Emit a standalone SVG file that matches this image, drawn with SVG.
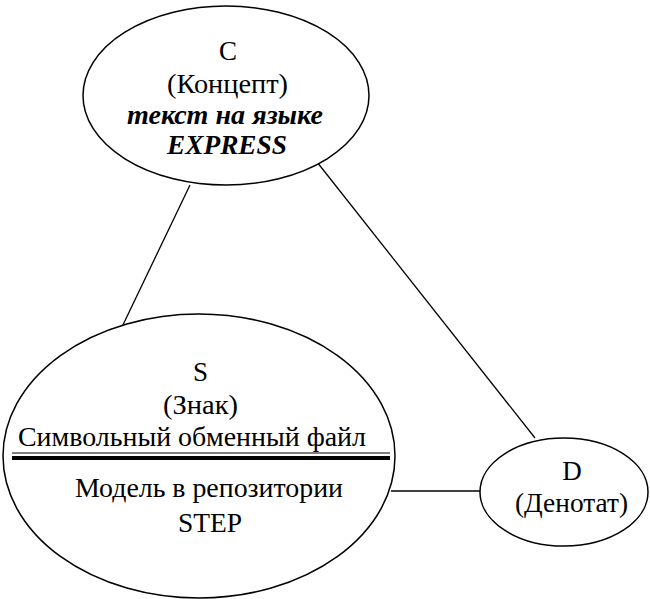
<svg xmlns="http://www.w3.org/2000/svg" width="650" height="599" viewBox="0 0 650 599">
<style>
.n{fill:#fff;stroke:#000;stroke-width:1.5}
.t{font-family:"Liberation Serif","Times New Roman",serif;font-size:27px;fill:#000;text-anchor:middle}
.bi{font-weight:bold;font-style:italic}
.c line{stroke:#000;stroke-width:1.3}
</style>
<rect width="650" height="599" fill="#fff"/>
<g class="c" id="connectors">
<line x1="190" y1="185" x2="121" y2="329"/>
<line x1="317" y1="162" x2="535" y2="438"/>
<line x1="391" y1="491" x2="481" y2="491"/>
</g>
<g id="C">
<ellipse class="n" cx="226" cy="95.5" rx="143" ry="89.5"/>
<text class="t" x="228" y="60">C</text>
<text class="t" x="227.5" y="93" textLength="121" lengthAdjust="spacingAndGlyphs">(Концепт)</text>
<text class="t bi" x="225" y="124" textLength="196" lengthAdjust="spacingAndGlyphs">текст на языке</text>
<text class="t bi" x="227" y="154" textLength="120" lengthAdjust="spacingAndGlyphs">EXPRESS</text>
</g>
<g id="S">
<ellipse class="n" cx="199" cy="456" rx="196" ry="142"/>
<text class="t" x="200.5" y="381">S</text>
<text class="t" x="200.5" y="414" textLength="75" lengthAdjust="spacingAndGlyphs">(Знак)</text>
<text class="t" x="192" y="446" textLength="348" lengthAdjust="spacingAndGlyphs">Символьный обменный файл</text>
<line x1="12" y1="453" x2="390" y2="453" stroke="#000" stroke-width="1"/>
<line x1="12" y1="458" x2="390" y2="458" stroke="#000" stroke-width="4"/>
<text class="t" x="209" y="497" textLength="268" lengthAdjust="spacingAndGlyphs">Модель в репозитории</text>
<text class="t" x="210" y="532" textLength="64" lengthAdjust="spacingAndGlyphs">STEP</text>
</g>
<g id="D">
<ellipse class="n" cx="564" cy="492" rx="84" ry="54"/>
<text class="t" x="572" y="480">D</text>
<text class="t" x="571.5" y="512" textLength="113" lengthAdjust="spacingAndGlyphs">(Денотат)</text>
</g>
</svg>
